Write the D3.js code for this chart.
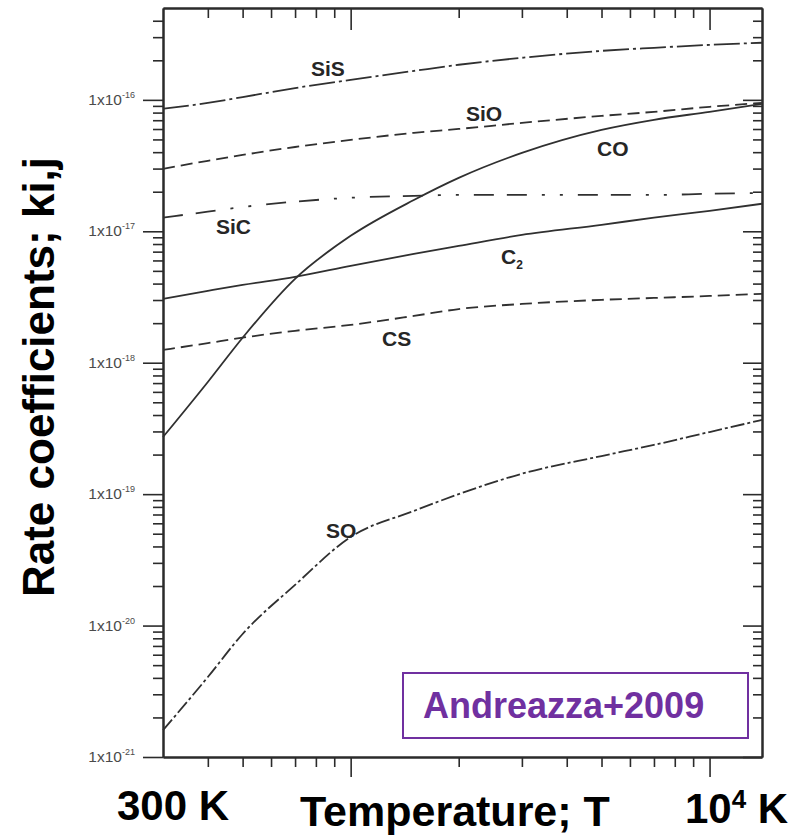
<!DOCTYPE html>
<html>
<head>
<meta charset="utf-8">
<script src="https://cdn.jsdelivr.net/npm/d3@7"></script>
<style>
  body { margin: 0; background: #fff; }
  svg { display: block; font-family: "Liberation Sans", Arial, sans-serif; }
</style>
</head>
<body>
<div id="chart"></div>
<script>
const temps = [300, 400, 500, 700, 1000, 1500, 2000, 3000, 5000, 7000, 10000, 14000]

// Rate coefficients (cm^3 s^-1)
const kSiS = [8.55e-17, 9.48e-17, 1.05e-16, 1.23e-16, 1.42e-16, 1.66e-16, 1.85e-16, 2.09e-16, 2.36e-16, 2.49e-16, 2.62e-16, 2.72e-16]
const kSiO = [2.99e-17, 3.44e-17, 3.81e-17, 4.38e-17, 4.96e-17, 5.61e-17, 6.01e-17, 6.68e-17, 7.55e-17, 8.11e-17, 8.85e-17, 9.48e-17]
const kSiC = [1.27e-17, 1.41e-17, 1.53e-17, 1.68e-17, 1.80e-17, 1.86e-17, 1.89e-17, 1.89e-17, 1.89e-17, 1.89e-17, 1.93e-17, 1.96e-17]
const kCO  = [2.72e-19, 7.14e-19, 1.55e-18, 4.35e-18, 9.23e-18, 1.73e-17, 2.55e-17, 3.95e-17, 5.91e-17, 7.05e-17, 8.11e-17, 9.32e-17]
const kC2  = [3.06e-18, 3.52e-18, 3.91e-18, 4.50e-18, 5.46e-18, 6.73e-18, 7.74e-18, 9.39e-18, 1.12e-17, 1.27e-17, 1.43e-17, 1.62e-17]
const kCS  = [1.25e-18, 1.41e-18, 1.55e-18, 1.75e-18, 1.94e-18, 2.27e-18, 2.56e-18, 2.80e-18, 3.01e-18, 3.11e-18, 3.22e-18, 3.34e-18]
const kSO  = [1.60e-21, 4.06e-21, 8.63e-21, 2.04e-20, 4.72e-20, 7.45e-20, 1.00e-19, 1.43e-19, 1.95e-19, 2.37e-19, 2.97e-19, 3.67e-19]

// Axis ticks
const yMajor = [1e-21, 1e-20, 1e-19, 1e-18, 1e-17, 1e-16]
const yExponents = ['-21', '-20', '-19', '-18', '-17', '-16']
const xMajor = [1000, 10000]

// Label texts
const yTitle = 'Rate coefficients; ki,j'
const xTitle = 'Temperature; T'
const refText = 'Andreazza+2009'

const width = 802
const height = 836
const plotLeft = 163, plotRight = 762, plotTop = 8, plotBottom = 757
const ink = '#2b2b2b'
const purple = '#7030A0'

const svg = d3.select('#chart')
    .append('svg')
    .attr('width', width)
    .attr('height', height)

const x = d3.scaleLog().domain([300, 14000]).range([plotLeft, plotRight])
const y = d3.scaleLog().domain([1e-21, 5e-16]).range([plotBottom, plotTop])

// minor ticks
let yMinor = []
yMajor.forEach(d => {
    for (let m = 2; m <= 9; m++) {
        const v = d * m
        if (v < 5e-16 * 0.999) yMinor.push(v)
    }
})
let xMinor = []
;[100, 1000, 10000].forEach(d => {
    for (let m = 2; m <= 9; m++) {
        const v = d * m
        if (v > 300 && v < 14000) xMinor.push(v)
    }
})

function styleAxis(g) {
    g.selectAll('path.domain').attr('stroke', ink).attr('stroke-width', 2)
    g.selectAll('.tick line').attr('stroke', ink).attr('stroke-width', 1.6)
}

// Left axis (ticks outside)
svg.append('g')
    .attr('transform', `translate(${plotLeft},0)`)
    .call(d3.axisLeft(y).tickValues(yMinor).tickSize(10).tickSizeOuter(0).tickFormat(''))
    .call(styleAxis)
svg.append('g')
    .attr('transform', `translate(${plotLeft},0)`)
    .call(d3.axisLeft(y).tickValues(yMajor).tickSize(20).tickSizeOuter(0).tickFormat(''))
    .call(styleAxis)

// Right axis (ticks inside)
svg.append('g')
    .attr('transform', `translate(${plotRight},0)`)
    .call(d3.axisRight(y).tickValues(yMinor).tickSize(-9).tickSizeOuter(0).tickFormat(''))
    .call(styleAxis)
svg.append('g')
    .attr('transform', `translate(${plotRight},0)`)
    .call(d3.axisRight(y).tickValues(yMajor).tickSize(-19).tickSizeOuter(0).tickFormat(''))
    .call(styleAxis)

// Bottom axis (ticks outside)
svg.append('g')
    .attr('transform', `translate(0,${plotBottom})`)
    .call(d3.axisBottom(x).tickValues(xMinor).tickSize(10).tickSizeOuter(0).tickFormat(''))
    .call(styleAxis)
svg.append('g')
    .attr('transform', `translate(0,${plotBottom})`)
    .call(d3.axisBottom(x).tickValues(xMajor).tickSize(20).tickSizeOuter(0).tickFormat(''))
    .call(styleAxis)

// Top axis (ticks inside)
svg.append('g')
    .attr('transform', `translate(0,${plotTop})`)
    .call(d3.axisTop(x).tickValues(xMinor).tickSize(-10).tickSizeOuter(0).tickFormat(''))
    .call(styleAxis)
svg.append('g')
    .attr('transform', `translate(0,${plotTop})`)
    .call(d3.axisTop(x).tickValues(xMajor).tickSize(-22).tickSizeOuter(0).tickFormat(''))
    .call(styleAxis)

// Y tick labels 1x10^n
const yLabels = svg.append('g')
    .selectAll('text')
    .data(yMajor)
    .join('text')
    .attr('x', 135)
    .attr('y', d => y(d) + 5)
    .attr('text-anchor', 'end')
    .attr('font-size', 15.5)
    .attr('fill', '#4a4a4a')
yLabels.append('tspan').text('1x10')
yLabels.append('tspan')
    .attr('font-size', 9)
    .attr('dy', -7)
    .text((d, i) => yExponents[i])

// Curves
const series = [
    { name: 'SiS', values: kSiS, dash: '26,4,3,4' },
    { name: 'SiO', values: kSiO, dash: '12,6' },
    { name: 'SiC', values: kSiC, dash: '20,13,20,15,3,15,3,15' },
    { name: 'CO', values: kCO, dash: null },
    { name: 'C2', values: kC2, dash: null },
    { name: 'CS', values: kCS, dash: '12,6' },
    { name: 'SO', values: kSO, dash: '14,3,3,3' }
]

const line = d3.line()
    .x(d => x(d[0]))
    .y(d => y(d[1]))
    .curve(d3.curveMonotoneX)

svg.append('g')
    .selectAll('path')
    .data(series)
    .join('path')
    .attr('d', s => line(temps.map((t, i) => [t, s.values[i]])))
    .attr('fill', 'none')
    .attr('stroke', '#303030')
    .attr('stroke-width', 1.8)
    .attr('stroke-dasharray', s => s.dash)

// Curve labels
const curveLabels = [
    { text: 'SiS', x: 311, y: 76 },
    { text: 'SiO', x: 466, y: 121 },
    { text: 'CO', x: 597, y: 156 },
    { text: 'SiC', x: 216, y: 234 },
    { text: 'CS', x: 382, y: 346 },
    { text: 'SO', x: 326, y: 538 }
]
svg.append('g')
    .selectAll('text')
    .data(curveLabels)
    .join('text')
    .attr('x', d => d.x)
    .attr('y', d => d.y)
    .attr('font-size', 21)
    .attr('font-weight', 'bold')
    .attr('fill', '#262626')
    .text(d => d.text)

const c2 = svg.append('text')
    .attr('x', 501)
    .attr('y', 264)
    .attr('font-size', 21)
    .attr('font-weight', 'bold')
    .attr('fill', '#262626')
c2.append('tspan').text('C')
c2.append('tspan').attr('font-size', 12).attr('dy', 5).text('2')

// Axis titles
svg.append('text')
    .attr('transform', 'translate(54,377) rotate(-90)')
    .attr('text-anchor', 'middle')
    .attr('font-size', 44)
    .attr('font-weight', 'bold')
    .attr('fill', '#000')
    .text(yTitle)

svg.append('text')
    .attr('x', 300)
    .attr('y', 826)
    .attr('font-size', 43)
    .attr('font-weight', 'bold')
    .attr('fill', '#000')
    .text(xTitle)

svg.append('text')
    .attr('x', 117)
    .attr('y', 820)
    .attr('font-size', 42)
    .attr('font-weight', 'bold')
    .attr('fill', '#000')
    .text('300 K')

const tenK = svg.append('text')
    .attr('x', 685)
    .attr('y', 823)
    .attr('font-size', 42)
    .attr('font-weight', 'bold')
    .attr('fill', '#000')
tenK.append('tspan').text('10')
tenK.append('tspan').attr('font-size', 26).attr('dy', -15).text('4')
tenK.append('tspan').attr('dy', 15).text(' K')

// Reference box
svg.append('rect')
    .attr('x', 403)
    .attr('y', 673)
    .attr('width', 345)
    .attr('height', 65)
    .attr('fill', '#fff')
    .attr('stroke', purple)
    .attr('stroke-width', 2)

svg.append('text')
    .attr('x', 423)
    .attr('y', 718)
    .attr('font-size', 36)
    .attr('font-weight', 'bold')
    .attr('fill', purple)
    .text(refText)
</script>
</body>
</html>
